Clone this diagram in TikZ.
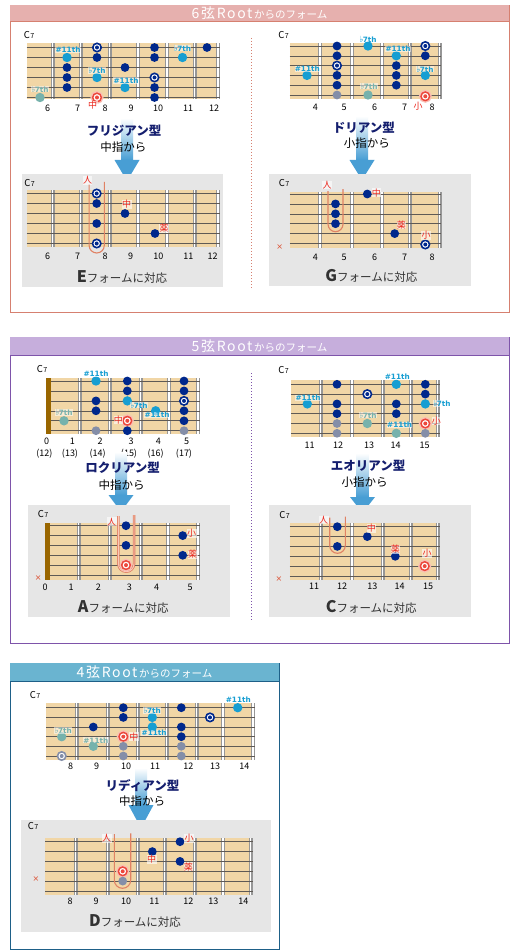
\documentclass[tikz,border=0pt]{standalone}
\usepackage{fontspec}
\setmainfont{Noto Sans CJK JP}
\newfontfamily\dv{DejaVu Sans}
\definecolor{navy}{RGB}{0,40,140}
\definecolor{lblue}{RGB}{22,158,210}
\definecolor{fteal}{RGB}{118,178,172}
\definecolor{fgray}{RGB}{132,142,168}
\definecolor{rootred}{RGB}{236,72,60}
\definecolor{rootpink}{RGB}{250,190,180}
\definecolor{wood}{RGB}{241,214,166}
\definecolor{strc}{RGB}{95,90,85}
\definecolor{fretc}{RGB}{150,150,150}
\definecolor{boxgray}{RGB}{230,230,230}
\definecolor{pinkb}{RGB}{214,128,112}
\definecolor{pinkh}{RGB}{230,176,174}
\definecolor{purb}{RGB}{126,84,170}
\definecolor{purh}{RGB}{198,174,220}
\definecolor{blueb}{RGB}{30,96,136}
\definecolor{blueh}{RGB}{106,180,208}
\definecolor{titlec}{RGB}{20,30,110}
\definecolor{arrowc}{RGB}{72,158,212}
\definecolor{fingr}{RGB}{235,40,30}
\definecolor{ucol}{RGB}{224,130,100}
\definecolor{upink}{RGB}{250,200,185}
\definecolor{nutc}{RGB}{153,102,0}
\definecolor{formc}{RGB}{50,50,50}
\definecolor{xcol}{RGB}{220,80,50}
\newcount\nn
\newcommand\dt[3]{\global\advance\nn by 1\relax\node[#1] (d\the\nn) at (#2,#3) {};}
\newcommand\tx[4][]{\global\advance\nn by 1\relax\node[#1] (t\the\nn) at (#2,#3) {#4};}
\newcommand\nums[2]{\foreach \px/\pl in {#2}{\tx[num]{\px}{#1}{\pl}}}
\newcommand\fboard[7]{%
 \fill[wood] (#1,#3) rectangle (#2,#4);
 \foreach \ff in {#7}{\fill[fretc] ({\ff-2},#3) rectangle ({\ff+2},#4);
   \fill[white] ({\ff-0.9},#3) rectangle ({\ff+0.3},#4);}
 \foreach \ii in {0,...,5}{\draw[strc,line width=0.55pt] (#1,{#5+\ii*#6}) -- (#2,{#5+\ii*#6});}
}
\newcommand\darrow[5]{%
 \global\advance\nn by 1\relax
 \coordinate (ah\the\nn) at (#1,#3); \coordinate (at\the\nn) at (#1,#4);
 \shade[top color=white,bottom color=arrowc] ({#1-6},#2) rectangle ({#1+6},#3);
 \fill[arrowc] ({#1-#5},#3) -- ({#1+#5},#3) -- (at\the\nn) -- cycle;
}
\newcommand\Cseven{C\kern0.4pt{\fontsize{7}{7}\selectfont 7}}
\newcommand\hdrA[1]{{\fontsize{14}{14}\selectfont\addfontfeature{LetterSpace=12}#1}}
\newcommand\hdrB[1]{{\fontsize{10.5}{10.5}\selectfont #1}}
\newcommand\frmt[1]{{\bfseries\fontsize{16}{16}\selectfont #1}フォームに対応}
\newcommand\flt{{\mdseries\fontsize{8.5}{8}\selectfont ♭}\kern-0.6pt}
\begin{document}
\begin{tikzpicture}[x=1pt,y=-1pt,
 dk/.style={circle,fill=navy,minimum size=8.8pt,inner sep=0pt},
 lb/.style={circle,fill=lblue,minimum size=9.4pt,inner sep=0pt},
 ft/.style={circle,fill=fteal,minimum size=9.4pt,inner sep=0pt},
 gy/.style={circle,fill=fgray,minimum size=8.8pt,inner sep=0pt},
 rb/.style={circle,draw=navy,line width=1.6pt,fill=white,minimum size=8.4pt,inner sep=0pt,
   path picture={\fill[navy] (path picture bounding box.center) circle (2pt);}},
 rg/.style={circle,draw=fgray,line width=1.6pt,fill=white,minimum size=8.4pt,inner sep=0pt,
   path picture={\fill[fgray] (path picture bounding box.center) circle (2pt);}},
 rr/.style={circle,draw=rootred,line width=1.5pt,fill=white,minimum size=8.6pt,inner sep=0pt,
   preaction={draw=rootpink,line width=4.2pt},
   path picture={\fill[rootred] (path picture bounding box.center) circle (2pt);}},
 ivl/.style={font=\dv\bfseries\fontsize{7.3}{7.3}\selectfont,text=lblue,inner sep=0.3pt,fill=white,fill opacity=0.5,text opacity=1},
 ivlf/.style={ivl,text=fteal},
 fing/.style={font=\fontsize{9}{9}\selectfont,text=fingr,inner sep=0.3pt,fill=white,fill opacity=0.6,text opacity=1},
 num/.style={font=\fontsize{9}{9}\selectfont,inner sep=0pt},
 c7/.style={font=\fontsize{9.5}{10}\selectfont,inner sep=0pt},
 ttl/.style={font=\bfseries\fontsize{12.5}{13}\selectfont,text=titlec,inner sep=0pt},
 subt/.style={font=\fontsize{11.5}{12}\selectfont,inner sep=0pt},
 frm/.style={font=\fontsize{11.5}{12}\selectfont,text=formc,inner sep=0pt},
 xm/.style={font=\dv\fontsize{8}{8}\selectfont,text=xcol,inner sep=0pt},
 hdr/.style={text=white,inner sep=0pt},
 uline/.style={draw=ucol,line width=1.1pt},
]
\useasboundingbox (0,0) rectangle (515,952);
\fill[white] (0,0) rectangle (515,952);

%================ Panel 1 =================
\draw[pinkb,line width=0.9pt] (10,5) rectangle (509,312);
\fill[pinkh] (10.45,5.45) rectangle (508.55,21.5);
\draw[pinkb,line width=0.9pt] (10,21.5) -- (509,21.5);
\tx[hdr]{259.5}{13.5}{\hdrA{6弦Root}\,\hdrB{からのフォーム}}
\draw[pinkb,line width=0.9pt,dash pattern=on 1pt off 2pt] (251.7,38) -- (251.7,288);

% TL top (Phrygian)
\tx[c7]{29}{35}{\Cseven}
\fboard{26.7}{220}{43.3}{99.3}{47.5}{10}{52.7,81,110,138.3,167.3,195,218.3}
\dt{ft}{40}{97.5}
\dt{lb}{67}{57.5}\dt{dk}{67}{67.5}\dt{dk}{67}{77.5}\dt{dk}{67}{87.5}
\dt{rb}{97}{47.5}\dt{dk}{97}{57.5}\dt{lb}{97}{77.5}\dt{rr}{97}{97.5}
\dt{dk}{125}{67.5}\dt{lb}{125}{87.5}
\dt{dk}{154.5}{47.5}\dt{dk}{154.5}{57.5}\dt{rb}{154.5}{77.5}\dt{dk}{154.5}{87.5}\dt{dk}{154.5}{97.5}
\dt{lb}{182.5}{57.5}
\dt{dk}{207}{47.5}
\tx[ivlf]{40}{89}{\flt 7th}
\tx[ivl]{68}{50}{\#11th}
\tx[ivl]{97}{70.5}{\flt 7th}
\tx[ivl]{126}{80.5}{\#11th}
\tx[ivl]{182.5}{48}{\flt 7th}
\tx[fing]{92.7}{105.5}{中}
\nums{108.5}{47.7/6,77.7/7,105/8,131/9,158/10,188/11,214/12}
\darrow{127}{118}{160}{181}{12.5}
\tx[ttl]{124.2}{130.5}{フリジアン型}
\tx[subt]{123.3}{147}{中指から}

% TL bottom (E form)
\fill[boxgray] (22.3,174) rectangle (223.3,286.7);
\tx[c7]{29.5}{183}{\Cseven}
\fboard{26.7}{220}{190}{247.3}{193.5}{10}{52.7,81,110,138.3,167.3,195,218.3}
\draw[uline] (89.1,184) -- (89.1,245.4) arc[start angle=180,end angle=0,radius=7.6] -- (104.3,182);
\dt{rb}{96.7}{193.5}\dt{dk}{96.7}{203.5}\dt{dk}{96.7}{223.5}\dt{rb}{96.7}{243.5}
\dt{dk}{125}{213.5}
\dt{dk}{155}{233.5}
\tx[fing]{87.5}{180.5}{人}
\tx[fing]{126.7}{204.5}{中}
\tx[fing]{164}{228.3}{薬}
\nums{256}{47.7/6,77.7/7,105/8,130.7/9,158.3/10,188.3/11,212.7/12}
\tx[frm]{122}{277}{\frmt{E}}

% TR top (Dorian)
\tx[c7]{283.5}{35}{\Cseven}
\fboard{289.7}{441.3}{42.7}{99}{46}{9.8}{320.3,352.3,382.3,409.7,439.7}
\dt{lb}{307}{75.4}
\dt{dk}{337}{46}\dt{dk}{337}{55.8}\dt{rb}{337}{65.6}\dt{dk}{337}{75.4}\dt{dk}{337}{85.2}\dt{gy}{337}{95}
\dt{lb}{368}{46}\dt{ft}{368}{95}
\dt{lb}{396.3}{55.8}\dt{dk}{396.3}{65.6}\dt{dk}{396.3}{75.4}\dt{dk}{396.3}{85.2}
\dt{rb}{425.3}{46}\dt{dk}{425.3}{55.8}\dt{lb}{425.3}{75.4}\dt{rr}{425.3}{96.3}
\tx[ivl]{307.3}{69}{\#11th}
\tx[ivl]{368}{39}{\flt 7th}
\tx[ivlf]{369}{86}{\flt 7th}
\tx[ivl]{398}{49}{\#11th}
\tx[ivl]{425}{69}{\flt 7th}
\tx[fing]{418}{106.5}{小}
\nums{107}{315.3/4,344/5,374.7/6,404.7/7,432/8}
\darrow{362}{116}{160}{180}{12.5}
\tx[ttl]{363.8}{127.5}{ドリアン型}
\tx[subt]{366.8}{143}{小指から}

% TR bottom (G form)
\fill[boxgray] (269,174) rectangle (470.7,286);
\tx[c7]{284}{183}{\Cseven}
\fboard{289.7}{441}{191.7}{248.3}{194}{9.9}{320.3,352.3,382.3,409.7,439.7}
\draw[uline] (328,191) -- (328,224.2) arc[start angle=180,end angle=0,radius=7.5] -- (343,189);
\dt{dk}{335.5}{203.9}\dt{dk}{335.5}{213.8}\dt{dk}{335.5}{223.7}
\dt{dk}{367.3}{194}
\dt{dk}{394.7}{233.6}
\dt{rb}{425.3}{244.5}
\tx[fing]{327}{185}{人}
\tx[fing]{376.3}{192.7}{中}
\tx[fing]{401.3}{225}{薬}
\tx[fing]{426}{235.5}{小}
\tx[xm]{279.7}{247.3}{×}
\nums{257.5}{315.3/4,344/5,374.7/6,404.7/7,432/8}
\tx[frm]{371.3}{276}{\frmt{G}}

%================ Panel 2 =================
\draw[purb,line width=0.9pt] (10,337) rectangle (509,643);
\fill[purh] (10.45,337.45) rectangle (508.55,355.7);
\draw[purb,line width=0.9pt] (10,355.7) -- (509,355.7);
\tx[hdr]{259.5}{346.5}{\hdrA{5弦Root}\,\hdrB{からのフォーム}}
\draw[purb,line width=0.9pt,dash pattern=on 1pt off 2pt] (251.7,373) -- (251.7,620);

% ML top (Locrian)
\tx[c7]{42}{369.5}{\Cseven}
\fboard{46}{200}{377.7}{434.3}{381}{9.94}{80,110,141,169.3,198.3}
\fill[nutc] (46,377.7) rectangle (50.7,434.3);
\dt{ft}{64}{420.8}
\dt{lb}{96}{381}\dt{dk}{96}{400.9}\dt{dk}{96}{410.8}\dt{gy}{96}{430.7}
\dt{dk}{127.3}{381}\dt{dk}{127.3}{390.9}\dt{lb}{127.3}{400.9}\dt{rr}{127.3}{420.8}\dt{dk}{127.3}{430.7}
\dt{lb}{155.7}{410.8}
\dt{dk}{184}{381}\dt{dk}{184}{390.9}\dt{rb}{184}{400.9}\dt{dk}{184}{410.8}\dt{dk}{184}{420.8}\dt{gy}{184}{430.7}
\tx[ivlf]{64}{412.5}{\flt 7th}
\tx[ivl]{96}{373.5}{\#11th}
\tx[ivl]{139}{405}{\flt 7th}
\tx[ivl]{157}{415}{\#11th}
\tx[fing]{118.3}{420}{中}
\nums{441.7}{46.7/0,72.3/1,100/2,131/3,158.3/4,186.7/5}
\nums{453.3}{44.3/(12),70/(13),97.7/(14),129/(15),155.7/(16),184/(17)}
\darrow{121}{452}{495}{511.7}{12.5}
\tx[ttl]{122.5}{468}{ロクリアン型}
\tx[subt]{121.5}{485}{中指から}

% ML bottom (A form)
\fill[boxgray] (27.7,505) rectangle (230,616.7);
\tx[c7]{43}{514}{\Cseven}
\fboard{45}{200}{522.7}{580}{525.7}{9.86}{79,110,140.7,168.3,198.3}
\fill[nutc] (45,522.7) rectangle (50,580);
\draw[ucol,double=upink,double distance=0.9pt,line width=0.8pt] (118.4,516) -- (118.4,563.9) arc[start angle=180,end angle=0,radius=7.8] -- (134,515);
\dt{dk}{126}{525.7}\dt{dk}{126}{545.4}\dt{rr}{126}{565.1}
\dt{dk}{182.7}{535.6}\dt{dk}{182.7}{555.3}
\tx[fing]{111.7}{521.7}{人}
\tx[fing]{191.7}{533.3}{小}
\tx[fing]{192.7}{554.3}{薬}
\tx[xm]{38.3}{578.3}{×}
\nums{587.3}{45/0,71/1,98.3/2,129.3/3,156.7/4,190/5}
\tx[frm]{123.3}{607.3}{\frmt{A}}

% MR top (Aeolian)
\tx[c7]{283.5}{370}{\Cseven}
\fboard{291.3}{439.7}{380}{436.7}{384.3}{9.8}{320.7,352.3,383,410.7,438}
\dt{lb}{307.3}{403.9}
\dt{dk}{337}{384.3}\dt{dk}{337}{403.9}\dt{dk}{337}{413.7}\dt{gy}{337}{423.5}\dt{gy}{337}{433.3}
\dt{rb}{367.3}{394.1}\dt{ft}{367.3}{423.5}
\dt{lb}{396.3}{384.3}\dt{dk}{396.3}{403.9}\dt{dk}{396.3}{413.7}\dt{ft}{396.3}{433.3}
\dt{dk}{425.3}{384.3}\dt{dk}{425.3}{394.1}\dt{lb}{425.3}{403.9}\dt{rr}{425.3}{423.5}\dt{gy}{425.3}{433.3}
\tx[ivl]{308}{397.7}{\#11th}
\tx[ivlf]{368}{415}{\flt 7th}
\tx[ivl]{397.3}{376.7}{\#11th}
\tx[ivl]{399.7}{425}{\#11th}
\tx[ivl]{442}{403.3}{\flt 7th}
\tx[fing]{436.3}{421}{小}
\nums{445}{309.7/11,338/12,369/13,395.7/14,424.7/15}
\darrow{362.5}{453}{497}{513}{12.5}
\tx[ttl]{368}{465.5}{エオリアン型}
\tx[subt]{364.7}{482}{小指から}

% MR bottom (C form)
\fill[boxgray] (269,505) rectangle (470.7,617.3);
\tx[c7]{284.5}{515}{\Cseven}
\fboard{289.5}{439.7}{523.3}{580}{526.7}{9.86}{320.7,352.3,383,410.7,438}
\draw[uline] (329.7,517.5) -- (329.7,545.5) arc[start angle=180,end angle=0,radius=7.8] -- (345.3,516.7);
\dt{dk}{337.3}{526.7}\dt{dk}{337.3}{546.4}
\dt{dk}{367.3}{536.6}
\dt{dk}{395.3}{556.3}
\dt{rr}{424.7}{566.1}
\tx[fing]{323.7}{520}{人}
\tx[fing]{371.3}{528.3}{中}
\tx[fing]{395.3}{549.3}{薬}
\tx[fing]{427}{553.3}{小}
\tx[xm]{279}{579}{×}
\nums{586}{314/11,342/12,372.3/13,399.7/14,428/15}
\tx[frm]{371.3}{607.3}{\frmt{C}}

%================ Panel 3 =================
\draw[blueb,line width=0.9pt] (10,663) rectangle (279,949);
\fill[blueh] (10.45,663.45) rectangle (278.55,681.7);
\draw[blueb,line width=0.9pt] (10,681.7) -- (279,681.7);
\tx[hdr]{144.5}{672.5}{\hdrA{4弦Root}\,\hdrB{からのフォーム}}

% B top (Lydian)
\tx[c7]{35}{695}{\Cseven}
\fboard{46}{255}{703.3}{760}{707.7}{9.66}{76.7,107.7,137.7,166.7,196.7,223.3,253.3}
\dt{ft}{61.7}{736.7}\dt{rg}{61.7}{756}
\dt{dk}{93.3}{727}\dt{ft}{93.3}{746.3}
\dt{dk}{123.3}{707.7}\dt{dk}{123.3}{717.4}\dt{rr}{123.3}{736.7}\dt{gy}{123.3}{746.3}\dt{gy}{123.3}{756}
\dt{lb}{152.3}{717.4}\dt{lb}{152.3}{727}
\dt{dk}{181.3}{707.7}\dt{dk}{181.3}{727}\dt{dk}{181.3}{736.7}\dt{gy}{181.3}{746.3}\dt{gy}{181.3}{756}
\dt{rb}{210}{717.4}
\dt{lb}{237.7}{707.7}
\tx[ivlf]{63.3}{730.3}{\flt 7th}
\tx[ivlf]{95.8}{740.3}{\#11th}
\tx[fing]{133.8}{736.8}{中}
\tx[ivl]{152.3}{710.5}{\flt 7th}
\tx[ivl]{154.2}{733}{\#11th}
\tx[ivl]{238.3}{700}{\#11th}
\nums{766.7}{70.7/8,96.7/9,126/10,155/11,188.3/12,215/13,244.3/14}
\darrow{141}{768}{805}{828}{12.5}
\tx[ttl]{142.5}{785.5}{リディアン型}
\tx[subt]{142}{801.5}{中指から}

% B bottom (D form)
\fill[boxgray] (21,820) rectangle (271,931.7);
\tx[c7]{33}{826.5}{\Cseven}
\fboard{45}{253.3}{838.3}{895}{841.7}{9.86}{75.7,107.7,137.7,165,195,223.3,250.7}
\draw[uline] (114.3,834) -- (114.3,880.1) arc[start angle=180,end angle=0,radius=8.2] -- (130.7,833.3);
\dt{rr}{122.7}{871.3}\dt{gy}{122.7}{881.1}
\dt{dk}{152.3}{851.6}
\dt{dk}{180}{841.7}\dt{dk}{180}{861.4}
\tx[fing]{106.7}{838.5}{人}
\tx[fing]{151.7}{859.5}{中}
\tx[fing]{189}{838.3}{小}
\tx[fing]{188.3}{866.7}{薬}
\tx[xm]{36}{879}{×}
\nums{901.7}{70/8,96/9,126/10,154.3/11,188.3/12,213.3/13,243.3/14}
\tx[frm]{135}{921}{\frmt{D}}
\end{tikzpicture}
\end{document}
